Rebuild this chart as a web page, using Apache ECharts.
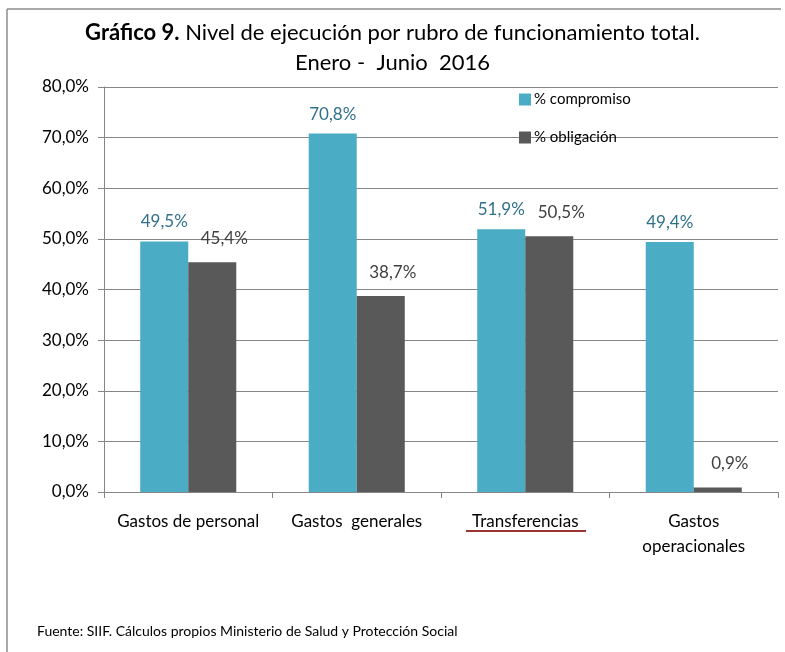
<!DOCTYPE html>
<html>
<head>
<meta charset="utf-8">
<script src="https://cdn.jsdelivr.net/npm/echarts@6/dist/echarts.min.js"></script>
<style>
  html, body { margin: 0; padding: 0; background: #fff; }
  #chart { width: 785px; height: 652px; }
</style>
</head>
<body>
<div id="chart"></div>
<script>
var categories = ["Gastos de personal", "Gastos  generales", "Transferencias", "Gastos\noperacionales"];
var compromiso = [49.5, 70.8, 51.9, 49.4];
var obligacion = [45.4, 38.7, 50.5, 0.9];
var yTicks = [0, 10, 20, 30, 40, 50, 60, 70, 80];

var FONT = "Lato, 'Open Sans', sans-serif";

function pct(v) {
  return v.toFixed(1).replace(".", ",") + "%";
}

var chart = echarts.init(document.getElementById("chart"));

var option = {
  backgroundColor: "#fff",
  textStyle: { fontFamily: FONT },
  title: {
    text: "{b|Gráfico 9.} Nivel de ejecución por rubro de funcionamiento total.\nEnero -  Junio  2016",
    left: "center",
    top: 13,
    textStyle: {
      fontFamily: FONT,
      fontSize: 22,
      fontWeight: "normal",
      color: "#000",
      lineHeight: 30,
      rich: {
        b: { fontFamily: FONT, fontSize: 22, fontWeight: "bold", color: "#000", lineHeight: 30 }
      }
    }
  },
  legend: {
    orient: "vertical",
    left: 514,
    top: 87,
    itemWidth: 12,
    itemHeight: 12,
    itemGap: 23,
    icon: "rect",
    textStyle: { fontFamily: FONT, fontSize: 15, color: "#000", padding: [0, 0, 0, -2] },
    data: ["% compromiso", "% obligación"]
  },
  grid: { left: 104, right: 7, top: 87, bottom: 160 },
  xAxis: {
    type: "category",
    data: categories,
    axisLine: { lineStyle: { color: "#868686" } },
    axisTick: { show: true, length: 6, lineStyle: { color: "#868686" } },
    axisLabel: {
      color: "#000",
      fontFamily: FONT,
      fontSize: 17,
      lineHeight: 25,
      margin: 17,
      interval: 0
    }
  },
  yAxis: {
    type: "value",
    min: yTicks[0],
    max: yTicks[yTicks.length - 1],
    interval: 10,
    axisLine: { show: true, lineStyle: { color: "#868686" } },
    axisTick: { show: true, length: 6, lineStyle: { color: "#868686" } },
    splitLine: { lineStyle: { color: "#868686" } },
    axisLabel: {
      color: "#000",
      fontFamily: FONT,
      fontSize: 17,
      margin: 15,
      formatter: function (v) { return pct(v); }
    }
  },
  series: [
    {
      name: "% compromiso",
      type: "bar",
      data: compromiso,
      barGap: "0%",
      barCategoryGap: "43%",
      itemStyle: { color: "#4BACC6" },
      label: {
        show: true,
        position: "top",
        distance: 11,
        color: "#31708A",
        fontFamily: FONT,
        fontSize: 17,
        formatter: function (p) { return pct(p.value); }
      }
    },
    {
      name: "% obligación",
      type: "bar",
      data: obligacion,
      itemStyle: { color: "#595959" },
      label: {
        show: true,
        position: "top",
        distance: 12,
        offset: [12, -3],
        color: "#404040",
        fontFamily: FONT,
        fontSize: 17,
        formatter: function (p) { return pct(p.value); }
      }
    }
  ],
  graphic: [
    // marco del gráfico (recortado a la derecha y abajo)
    { type: "line", shape: { x1: 7, y1: 9, x2: 781, y2: 9 }, style: { stroke: "#8c8c8c", lineWidth: 1.5 } },
    { type: "line", shape: { x1: 7, y1: 9, x2: 7, y2: 652 }, style: { stroke: "#8c8c8c", lineWidth: 1.5 } },
    // subrayado del corrector ortográfico
    { type: "line", shape: { x1: 466, y1: 531, x2: 586, y2: 531 }, style: { stroke: "#9B3535", lineWidth: 2 } },
    {
      type: "text",
      left: 37,
      top: 624,
      style: {
        text: "Fuente: SIIF. Cálculos propios Ministerio de Salud y Protección Social",
        font: "14px " + FONT,
        fill: "#000"
      }
    }
  ]
};

chart.setOption(option);
window.addEventListener("resize", function () {
  chart.resize();
});
</script>
</body>
</html>
